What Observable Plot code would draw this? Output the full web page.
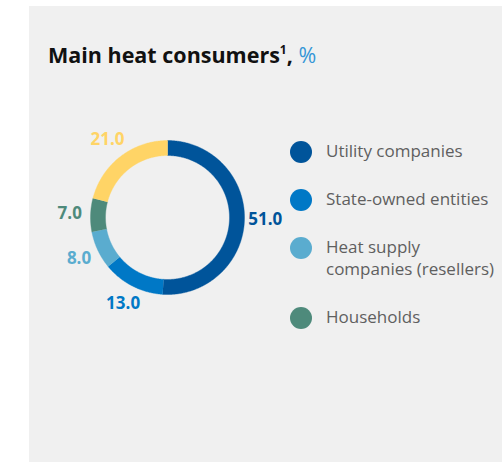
<!DOCTYPE html>
<html><head><meta charset="utf-8">
<script src="https://cdn.jsdelivr.net/npm/d3@7"></script>
<script src="https://cdn.jsdelivr.net/npm/@observablehq/plot@0.6"></script>
<style>
html,body{margin:0;padding:0;width:502px;height:462px;overflow:hidden;background:#fff;font-family:"Open Sans","Noto Sans",sans-serif}
#panel{position:absolute;left:29px;top:6px;width:473px;height:456px;background:#f0f0f0}
#title{position:absolute;left:48px;top:44px;font-size:21.5px;line-height:22px;font-weight:700;color:#111;white-space:nowrap}
#title sup{font-size:12px;vertical-align:9px;line-height:0}
#title .pct{color:#3596d7;font-weight:400}
#chart{position:absolute;left:36.5px;top:87px}
#legend{position:absolute;left:290px;top:140px;white-space:nowrap}
.item{position:relative;padding-left:36px;margin-bottom:26px;font-size:17px;line-height:22px;color:#5f5f5f}
.item .sw{position:absolute;left:0;top:1px;width:22px;height:22px;border-radius:50%}
</style></head><body>
<div id="panel"></div>
<div id="title">Main heat consumers<sup>1</sup>, <span class="pct">%</span></div>
<div id="chart"></div>
<div id="legend"></div>
<script>
// Data
const categories = ["Utility companies", "State-owned entities", "Heat supply companies (resellers)", "Households", "Other"];
const values = [51.0, 13.0, 8.0, 7.0, 21.0];
const colors = ["#00549a", "#0078c6", "#5aaccf", "#4e8a7b", "#ffd466"];
const legendLabels = [["Utility companies"], ["State-owned entities"], ["Heat supply", "companies (resellers)"], ["Households"]];

// Build donut geometry from the data
const S = 260, R = 77, d = S / (2 * R), inner = 0.805;
const pie = d3.pie().sort(null).value(v => v)(values);
const pts = [];
pie.forEach((p, i) => {
  const a0 = p.startAngle, a1 = p.endAngle;
  const n = Math.max(4, Math.ceil((a1 - a0) / 0.01));
  for (let k = 0; k <= n; k++) { const a = a0 + (a1 - a0) * k / n; pts.push({cat: categories[i], color: colors[i], x: Math.sin(a), y: -Math.cos(a)}); }
  for (let k = n; k >= 0; k--) { const a = a0 + (a1 - a0) * k / n; pts.push({cat: categories[i], color: colors[i], x: inner * Math.sin(a), y: -inner * Math.cos(a)}); }
});
const labels = pie.map((p, i) => {
  const a = (p.startAngle + p.endAngle) / 2;
  const r = 1.27;
  return {label: values[i].toFixed(1), color: colors[i], x: r * Math.sin(a), y: -r * Math.cos(a)};
});

const chart = Plot.plot({
  width: S, height: S, margin: 0,
  x: {domain: [-d, d], range: [0, S], axis: null},
  y: {domain: [-d, d], range: [0, S], axis: null},
  color: {type: "identity"},
  style: {background: "transparent", overflow: "visible"},
  marks: [
    Plot.line(pts, {x: "x", y: "y", z: "cat", fill: "color", stroke: "color", strokeWidth: 0.4, curve: "linear"}),
    Plot.text(labels, {x: "x", y: "y", text: "label", fill: "color", fontSize: 17, fontWeight: 700, fontFamily: "Open Sans", textAnchor: "middle", dy: -1})
  ]
});
document.getElementById("chart").appendChild(chart);

// Legend
const lg = d3.select("#legend");
legendLabels.forEach((lines, i) => {
  const it = lg.append("div").attr("class", "item");
  it.append("span").attr("class", "sw").style("background", colors[i]);
  lines.forEach(l => it.append("div").text(l));
});
</script>
</body></html>
